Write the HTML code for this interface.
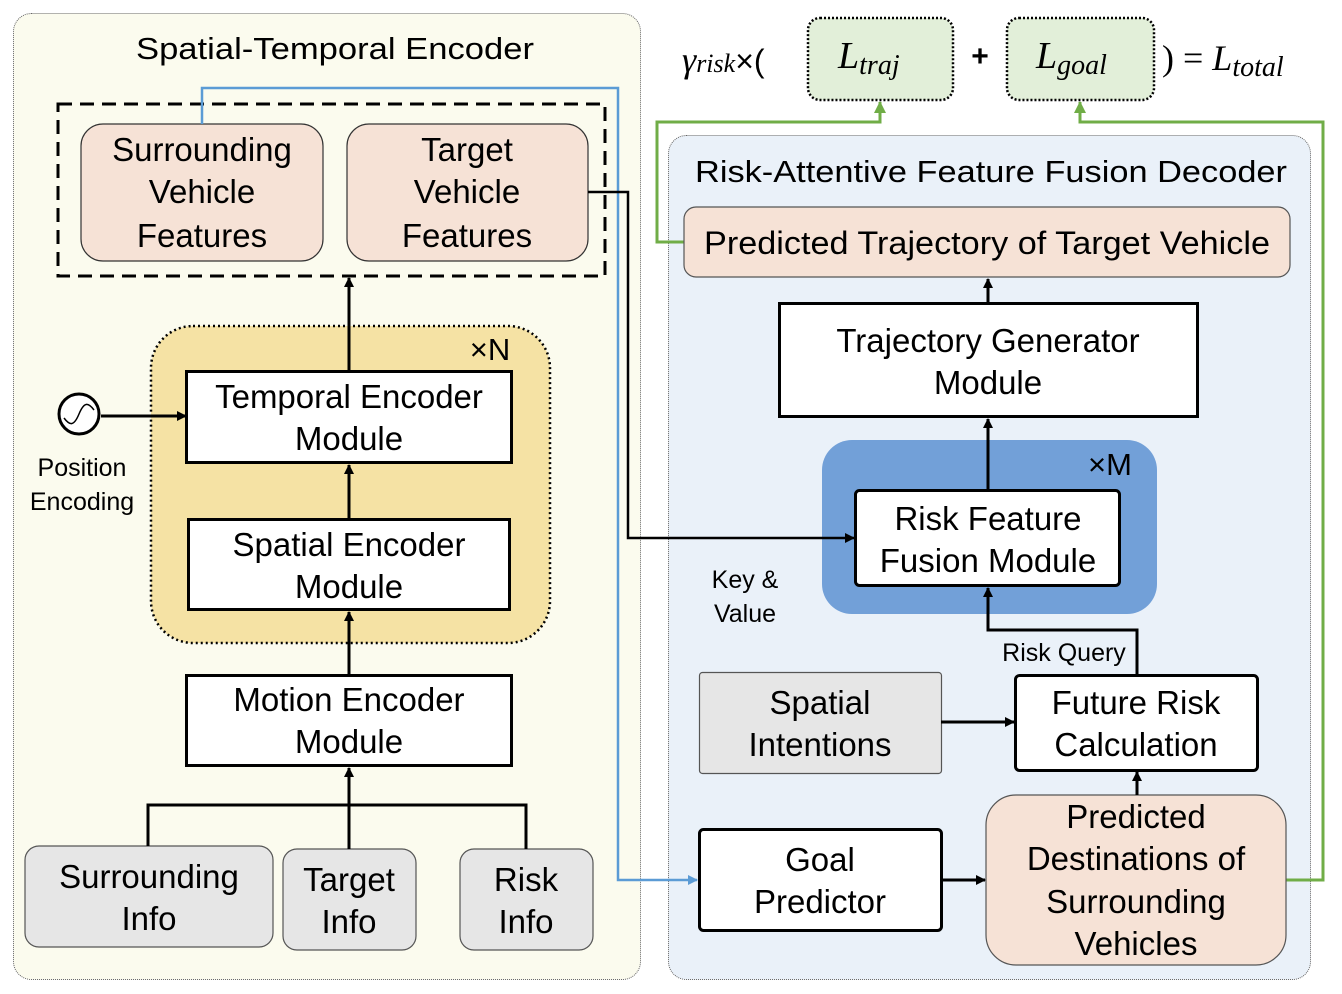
<!DOCTYPE html>
<html><head><meta charset="utf-8"><style>html,body{margin:0;padding:0;background:#fff}svg{display:block}text{font-family:"Liberation Sans",sans-serif;fill:#000}.m{font-family:"Liberation Serif",serif;font-style:italic}</style></head><body>
<svg width="1342" height="994" viewBox="0 0 1342 994" xmlns="http://www.w3.org/2000/svg">
<defs>
<marker id="ab" markerWidth="10" markerHeight="10" refX="9" refY="5" orient="auto" markerUnits="userSpaceOnUse"><path d="M0,0 L10,5 L0,10 z" fill="#000"/></marker>
<marker id="abl" markerWidth="10" markerHeight="10" refX="9" refY="5" orient="auto" markerUnits="userSpaceOnUse"><path d="M0,0 L10,5 L0,10 z" fill="#5b9bd5"/></marker>
<marker id="ag" markerWidth="12" markerHeight="12" refX="11" refY="6" orient="auto" markerUnits="userSpaceOnUse"><path d="M0,0 L12,6 L0,12 z" fill="#70ad47"/></marker>
</defs>
<rect x="13.5" y="13.5" width="627" height="966" rx="18" fill="#fbfbee" stroke="#666" stroke-width="1" stroke-dasharray="1 1"/>
<rect x="668.5" y="135.5" width="642" height="844" rx="18" fill="#eaf1f9" stroke="#666" stroke-width="1" stroke-dasharray="1 1"/>
<text x="335" y="59" font-size="31" text-anchor="middle" textLength="398" lengthAdjust="spacingAndGlyphs">Spatial-Temporal Encoder</text>
<text x="991" y="182" font-size="31" text-anchor="middle" textLength="592" lengthAdjust="spacingAndGlyphs">Risk-Attentive Feature Fusion Decoder</text>

<rect x="58" y="104" width="547" height="172" fill="none" stroke="#000" stroke-width="3" stroke-dasharray="14 8"/>
<rect x="81" y="124" width="242" height="137" rx="22" fill="#f6e2d6" stroke="#333" stroke-width="1.2"/>
<rect x="347" y="124" width="241" height="137" rx="22" fill="#f6e2d6" stroke="#333" stroke-width="1.2"/>
<g font-size="33" text-anchor="middle">
<text x="202" y="161">Surrounding</text><text x="202" y="203">Vehicle</text><text x="202" y="247">Features</text>
<text x="467" y="161">Target</text><text x="467" y="203">Vehicle</text><text x="467" y="247">Features</text>
</g>
<rect x="151" y="326" width="399" height="317" rx="42" fill="#f5e2a4" stroke="#000" stroke-width="2.5" stroke-dasharray="2 3"/>
<text x="490" y="360" font-size="31" text-anchor="middle">×N</text>
<rect x="186.5" y="371.5" width="325" height="91" fill="#fff" stroke="#000" stroke-width="3"/>
<rect x="188.5" y="519.5" width="321" height="90" fill="#fff" stroke="#000" stroke-width="3"/>
<rect x="186.5" y="675.5" width="325" height="90" fill="#fff" stroke="#000" stroke-width="3"/>
<g font-size="33" text-anchor="middle">
<text x="349" y="408">Temporal Encoder</text><text x="349" y="450">Module</text>
<text x="349" y="556">Spatial Encoder</text><text x="349" y="598">Module</text>
<text x="349" y="711">Motion Encoder</text><text x="349" y="753">Module</text>
</g>
<rect x="25" y="846" width="248" height="101" rx="14" fill="#e6e6e6" stroke="#555" stroke-width="1.2"/>
<rect x="283" y="849" width="133" height="101" rx="14" fill="#e6e6e6" stroke="#555" stroke-width="1.2"/>
<rect x="460" y="849" width="133" height="101" rx="14" fill="#e6e6e6" stroke="#555" stroke-width="1.2"/>
<g font-size="33" text-anchor="middle">
<text x="149" y="888">Surrounding</text><text x="149" y="930">Info</text>
<text x="349" y="891">Target</text><text x="349" y="933">Info</text>
<text x="526" y="891">Risk</text><text x="526" y="933">Info</text>
</g>
<g stroke="#000" stroke-width="3" fill="none">
<path d="M148,846 V805 H526 V849"/>
<path d="M349,849 V768" marker-end="url(#ab)"/>
<path d="M349,675 V612" marker-end="url(#ab)"/>
<path d="M349,519 V465" marker-end="url(#ab)"/>
<path d="M349,371 V278" marker-end="url(#ab)"/>
<path d="M101,416 H186" marker-end="url(#ab)"/>
</g>
<circle cx="79" cy="414" r="20" fill="#fff" stroke="#000" stroke-width="3"/>
<path d="M64,418 C70,426 74,426 79,414 C84,402 88,402 94,410" fill="none" stroke="#000" stroke-width="1.5"/>
<text x="82" y="476" font-size="25" text-anchor="middle">Position</text>
<text x="82" y="510" font-size="25" text-anchor="middle">Encoding</text>

<path d="M202,124 V88 H618 V880 H697" fill="none" stroke="#5b9bd5" stroke-width="2.5" marker-end="url(#abl)"/>
<path d="M684,242 H657 V122 H880 V102" fill="none" stroke="#70ad47" stroke-width="3" marker-end="url(#ag)"/>
<path d="M1286,880 H1323 V122 H1080 V102" fill="none" stroke="#70ad47" stroke-width="3" marker-end="url(#ag)"/>

<rect x="684" y="207" width="606" height="70" rx="12" fill="#f6e2d6" stroke="#555" stroke-width="1.2"/>
<text x="987" y="254" font-size="32" text-anchor="middle" textLength="566" lengthAdjust="spacingAndGlyphs">Predicted Trajectory of Target Vehicle</text>
<rect x="779.5" y="303.5" width="418" height="113" fill="#fff" stroke="#000" stroke-width="3"/>
<text x="988" y="352" font-size="33" text-anchor="middle">Trajectory Generator</text>
<text x="988" y="394" font-size="33" text-anchor="middle">Module</text>
<rect x="822" y="440" width="335" height="174" rx="30" fill="#72a0d8"/>
<text x="1110" y="475" font-size="31" text-anchor="middle">×M</text>
<path d="M588,192 H628 V538 H854" fill="none" stroke="#000" stroke-width="2.5" marker-end="url(#ab)"/>
<rect x="855.5" y="490.5" width="264" height="95" rx="4" fill="#fff" stroke="#000" stroke-width="3"/>
<text x="988" y="530" font-size="33" text-anchor="middle">Risk Feature</text>
<text x="988" y="572" font-size="33" text-anchor="middle">Fusion Module</text>
<text x="745" y="588" font-size="25" text-anchor="middle">Key &amp;</text>
<text x="745" y="622" font-size="25" text-anchor="middle">Value</text>
<text x="1064" y="661" font-size="25" text-anchor="middle">Risk Query</text>
<rect x="699.5" y="672.5" width="242" height="101" rx="3" fill="#e6e6e6" stroke="#555" stroke-width="1.2"/>
<text x="820" y="714" font-size="33" text-anchor="middle">Spatial</text>
<text x="820" y="756" font-size="33" text-anchor="middle">Intentions</text>
<rect x="1015.5" y="675.5" width="242" height="95" rx="4" fill="#fff" stroke="#000" stroke-width="3"/>
<text x="1136" y="714" font-size="33" text-anchor="middle">Future Risk</text>
<text x="1136" y="756" font-size="33" text-anchor="middle">Calculation</text>
<rect x="699.5" y="829.5" width="242" height="101" rx="4" fill="#fff" stroke="#000" stroke-width="3"/>
<text x="820" y="871" font-size="33" text-anchor="middle">Goal</text>
<text x="820" y="913" font-size="33" text-anchor="middle">Predictor</text>
<rect x="986" y="795" width="300" height="170" rx="30" fill="#f6e2d6" stroke="#555" stroke-width="1.2"/>
<g font-size="33" text-anchor="middle">
<text x="1136" y="828">Predicted</text><text x="1136" y="870">Destinations of</text><text x="1136" y="913">Surrounding</text><text x="1136" y="955">Vehicles</text>
</g>
<g stroke="#000" stroke-width="3" fill="none">
<path d="M988,303 V279" marker-end="url(#ab)"/>
<path d="M988,490 V419" marker-end="url(#ab)"/>
<path d="M1137,675 V630 H988 V588" marker-end="url(#ab)"/>
<path d="M941,722 H1014" marker-end="url(#ab)"/>
<path d="M1137,795 V772" marker-end="url(#ab)"/>
<path d="M941,880 H985" marker-end="url(#ab)"/>
</g>

<rect x="808" y="18" width="145" height="82" rx="12" fill="#e2efd9" stroke="#000" stroke-width="2.5" stroke-dasharray="2 2"/>
<rect x="1007" y="18" width="147" height="82" rx="12" fill="#e2efd9" stroke="#000" stroke-width="2.5" stroke-dasharray="2 2"/>
<text class="m" x="682" y="72" font-size="36">γ<tspan font-size="26">risk</tspan><tspan style="font-style:normal;font-family:'Liberation Sans',sans-serif" font-size="32">×(</tspan></text>
<text class="m" x="838" y="68" font-size="38">L<tspan font-size="28" dy="6">traj</tspan></text>
<text class="m" x="1036" y="68" font-size="38">L<tspan font-size="28" dy="6">goal</tspan></text>
<text class="m" x="1162" y="70" font-size="36"><tspan style="font-style:normal">) = </tspan>L<tspan font-size="28" dy="6">total</tspan></text>
<text x="980" y="66" font-size="30" font-weight="bold" text-anchor="middle">+</text>
</svg>
</body></html>
